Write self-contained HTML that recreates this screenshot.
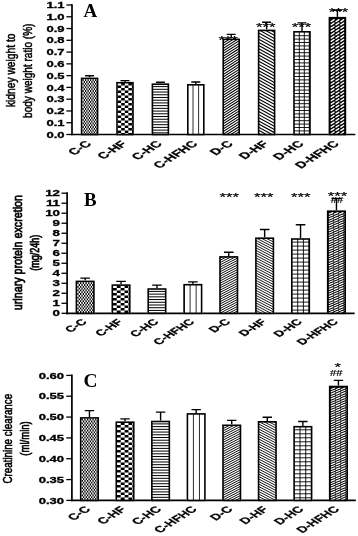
<!DOCTYPE html>
<html lang="en"><head><meta charset="utf-8"><title>Figure</title>
<style>html,body{margin:0;padding:0;background:#fff}svg{display:block;filter:blur(0.35px)}</style></head><body>
<svg width="358" height="536" viewBox="0 0 358 536">
<rect width="358" height="536" fill="#fff"/>
<defs><clipPath id="c1"><rect x="81.60" y="78.40" width="16.00" height="56.10"/></clipPath><clipPath id="c2"><rect x="117.00" y="82.70" width="16.00" height="51.80"/></clipPath><clipPath id="c3"><rect x="152.40" y="84.20" width="16.00" height="50.30"/></clipPath><clipPath id="c4"><rect x="187.80" y="84.80" width="16.00" height="49.70"/></clipPath><clipPath id="c5"><rect x="223.20" y="39.30" width="16.00" height="95.20"/></clipPath><clipPath id="c6"><rect x="258.60" y="30.40" width="16.00" height="104.10"/></clipPath><clipPath id="c7"><rect x="294.00" y="31.80" width="16.00" height="102.70"/></clipPath><clipPath id="c8"><rect x="329.40" y="17.70" width="16.00" height="116.80"/></clipPath><clipPath id="c9"><rect x="76.40" y="281.40" width="17.50" height="31.90"/></clipPath><clipPath id="c10"><rect x="112.30" y="285.10" width="17.50" height="28.20"/></clipPath><clipPath id="c11"><rect x="148.20" y="289.00" width="17.50" height="24.30"/></clipPath><clipPath id="c12"><rect x="184.10" y="284.70" width="17.50" height="28.60"/></clipPath><clipPath id="c13"><rect x="220.00" y="256.90" width="17.50" height="56.40"/></clipPath><clipPath id="c14"><rect x="255.90" y="238.20" width="17.50" height="75.10"/></clipPath><clipPath id="c15"><rect x="291.80" y="239.00" width="17.50" height="74.30"/></clipPath><clipPath id="c16"><rect x="327.70" y="211.20" width="17.50" height="102.10"/></clipPath><clipPath id="c17"><rect x="80.70" y="417.90" width="17.50" height="82.50"/></clipPath><clipPath id="c18"><rect x="116.27" y="422.20" width="17.50" height="78.20"/></clipPath><clipPath id="c19"><rect x="151.84" y="421.50" width="17.50" height="78.90"/></clipPath><clipPath id="c20"><rect x="187.41" y="413.90" width="17.50" height="86.50"/></clipPath><clipPath id="c21"><rect x="222.98" y="425.30" width="17.50" height="75.10"/></clipPath><clipPath id="c22"><rect x="258.55" y="421.80" width="17.50" height="78.60"/></clipPath><clipPath id="c23"><rect x="294.12" y="426.70" width="17.50" height="73.70"/></clipPath><clipPath id="c24"><rect x="329.69" y="386.50" width="17.50" height="113.90"/></clipPath></defs>
<path d="M72.00 4.15V135.35" stroke="#000" stroke-width="1.7" fill="none"/>
<path d="M71.15 134.50H355.30" stroke="#000" stroke-width="1.7" fill="none"/>
<path d="M66.40 134.50H72.00" stroke="#000" stroke-width="1.3" fill="none"/>
<text transform="translate(64.50 137.60) scale(1.55 1)" font-family='"Liberation Sans", Arial, Helvetica, sans-serif' font-size="8.4" font-weight="bold" text-anchor="end" stroke="#000" stroke-width="0.3">0.0</text>
<path d="M66.40 122.73H72.00" stroke="#000" stroke-width="1.3" fill="none"/>
<text transform="translate(64.50 125.83) scale(1.55 1)" font-family='"Liberation Sans", Arial, Helvetica, sans-serif' font-size="8.4" font-weight="bold" text-anchor="end" stroke="#000" stroke-width="0.3">0.1</text>
<path d="M66.40 110.95H72.00" stroke="#000" stroke-width="1.3" fill="none"/>
<text transform="translate(64.50 114.05) scale(1.55 1)" font-family='"Liberation Sans", Arial, Helvetica, sans-serif' font-size="8.4" font-weight="bold" text-anchor="end" stroke="#000" stroke-width="0.3">0.2</text>
<path d="M66.40 99.18H72.00" stroke="#000" stroke-width="1.3" fill="none"/>
<text transform="translate(64.50 102.28) scale(1.55 1)" font-family='"Liberation Sans", Arial, Helvetica, sans-serif' font-size="8.4" font-weight="bold" text-anchor="end" stroke="#000" stroke-width="0.3">0.3</text>
<path d="M66.40 87.41H72.00" stroke="#000" stroke-width="1.3" fill="none"/>
<text transform="translate(64.50 90.51) scale(1.55 1)" font-family='"Liberation Sans", Arial, Helvetica, sans-serif' font-size="8.4" font-weight="bold" text-anchor="end" stroke="#000" stroke-width="0.3">0.4</text>
<path d="M66.40 75.64H72.00" stroke="#000" stroke-width="1.3" fill="none"/>
<text transform="translate(64.50 78.74) scale(1.55 1)" font-family='"Liberation Sans", Arial, Helvetica, sans-serif' font-size="8.4" font-weight="bold" text-anchor="end" stroke="#000" stroke-width="0.3">0.5</text>
<path d="M66.40 63.86H72.00" stroke="#000" stroke-width="1.3" fill="none"/>
<text transform="translate(64.50 66.96) scale(1.55 1)" font-family='"Liberation Sans", Arial, Helvetica, sans-serif' font-size="8.4" font-weight="bold" text-anchor="end" stroke="#000" stroke-width="0.3">0.6</text>
<path d="M66.40 52.09H72.00" stroke="#000" stroke-width="1.3" fill="none"/>
<text transform="translate(64.50 55.19) scale(1.55 1)" font-family='"Liberation Sans", Arial, Helvetica, sans-serif' font-size="8.4" font-weight="bold" text-anchor="end" stroke="#000" stroke-width="0.3">0.7</text>
<path d="M66.40 40.32H72.00" stroke="#000" stroke-width="1.3" fill="none"/>
<text transform="translate(64.50 43.42) scale(1.55 1)" font-family='"Liberation Sans", Arial, Helvetica, sans-serif' font-size="8.4" font-weight="bold" text-anchor="end" stroke="#000" stroke-width="0.3">0.8</text>
<path d="M66.40 28.55H72.00" stroke="#000" stroke-width="1.3" fill="none"/>
<text transform="translate(64.50 31.65) scale(1.55 1)" font-family='"Liberation Sans", Arial, Helvetica, sans-serif' font-size="8.4" font-weight="bold" text-anchor="end" stroke="#000" stroke-width="0.3">0.9</text>
<path d="M66.40 16.77H72.00" stroke="#000" stroke-width="1.3" fill="none"/>
<text transform="translate(64.50 19.87) scale(1.55 1)" font-family='"Liberation Sans", Arial, Helvetica, sans-serif' font-size="8.4" font-weight="bold" text-anchor="end" stroke="#000" stroke-width="0.3">1.0</text>
<path d="M66.40 5.00H72.00" stroke="#000" stroke-width="1.3" fill="none"/>
<text transform="translate(64.50 8.10) scale(1.55 1)" font-family='"Liberation Sans", Arial, Helvetica, sans-serif' font-size="8.4" font-weight="bold" text-anchor="end" stroke="#000" stroke-width="0.3">1.1</text>
<path d="M89.60 77.60V75.80M85.10 75.80H94.10" stroke="#000" stroke-width="1.4" fill="none"/>
<rect x="80.80" y="77.60" width="17.60" height="56.90" fill="#fff"/>
<g clip-path="url(#c1)"><path d="M82.50 80.20H98.40M82.50 83.80H98.40M82.50 87.40H98.40M82.50 91.00H98.40M82.50 94.60H98.40M82.50 98.20H98.40M82.50 101.80H98.40M82.50 105.40H98.40M82.50 109.00H98.40M82.50 112.60H98.40M82.50 116.20H98.40M82.50 119.80H98.40M82.50 123.40H98.40M82.50 127.00H98.40M82.50 130.60H98.40M82.50 134.20H98.40" stroke="#000" stroke-width="1.800" stroke-dasharray="1.25 1.25" stroke-dashoffset="0" fill="none"/><path d="M82.50 82.00H98.40M82.50 85.60H98.40M82.50 89.20H98.40M82.50 92.80H98.40M82.50 96.40H98.40M82.50 100.00H98.40M82.50 103.60H98.40M82.50 107.20H98.40M82.50 110.80H98.40M82.50 114.40H98.40M82.50 118.00H98.40M82.50 121.60H98.40M82.50 125.20H98.40M82.50 128.80H98.40M82.50 132.40H98.40M82.50 136.00H98.40" stroke="#000" stroke-width="1.800" stroke-dasharray="1.25 1.25" stroke-dashoffset="1.25" fill="none"/></g>
<rect x="81.60" y="78.40" width="16.00" height="56.10" fill="none" stroke="#000" stroke-width="1.6"/>
<text transform="translate(92.15 144.50) scale(1.6 1) rotate(-45)" font-family='"Liberation Sans", Arial, Helvetica, sans-serif' font-size="9.0" font-weight="bold" text-anchor="end" stroke="#000" stroke-width="0.25">C-C</text>
<path d="M125.00 81.90V80.60M120.50 80.60H129.50" stroke="#000" stroke-width="1.4" fill="none"/>
<rect x="116.20" y="81.90" width="17.60" height="52.60" fill="#fff"/>
<g clip-path="url(#c2)"><path d="M117.60 84.35H133.80M117.60 89.35H133.80M117.60 94.35H133.80M117.60 99.35H133.80M117.60 104.35H133.80M117.60 109.35H133.80M117.60 114.35H133.80M117.60 119.35H133.80M117.60 124.35H133.80M117.60 129.35H133.80M117.60 134.35H133.80" stroke="#000" stroke-width="2.500" stroke-dasharray="3.58 3.58" stroke-dashoffset="3.58" fill="none"/><path d="M117.60 86.85H133.80M117.60 91.85H133.80M117.60 96.85H133.80M117.60 101.85H133.80M117.60 106.85H133.80M117.60 111.85H133.80M117.60 116.85H133.80M117.60 121.85H133.80M117.60 126.85H133.80M117.60 131.85H133.80M117.60 136.85H133.80" stroke="#000" stroke-width="2.500" stroke-dasharray="3.58 3.58" stroke-dashoffset="0" fill="none"/></g>
<rect x="117.00" y="82.70" width="16.00" height="51.80" fill="none" stroke="#000" stroke-width="1.6"/>
<text transform="translate(127.55 144.50) scale(1.6 1) rotate(-45)" font-family='"Liberation Sans", Arial, Helvetica, sans-serif' font-size="9.0" font-weight="bold" text-anchor="end" stroke="#000" stroke-width="0.25">C-HF</text>
<path d="M160.40 83.40V82.30M155.90 82.30H164.90" stroke="#000" stroke-width="1.4" fill="none"/>
<rect x="151.60" y="83.40" width="17.60" height="51.10" fill="#fff"/>
<g clip-path="url(#c3)"><path d="M151.60 86.60H169.20M151.60 89.32H169.20M151.60 92.04H169.20M151.60 94.76H169.20M151.60 97.48H169.20M151.60 100.20H169.20M151.60 102.92H169.20M151.60 105.64H169.20M151.60 108.36H169.20M151.60 111.08H169.20M151.60 113.80H169.20M151.60 116.52H169.20M151.60 119.24H169.20M151.60 121.96H169.20M151.60 124.68H169.20M151.60 127.40H169.20M151.60 130.12H169.20M151.60 132.84H169.20" stroke="#000" stroke-width="1.0" fill="none"/></g>
<rect x="152.40" y="84.20" width="16.00" height="50.30" fill="none" stroke="#000" stroke-width="1.6"/>
<text transform="translate(162.95 144.50) scale(1.6 1) rotate(-45)" font-family='"Liberation Sans", Arial, Helvetica, sans-serif' font-size="9.0" font-weight="bold" text-anchor="end" stroke="#000" stroke-width="0.25">C-HC</text>
<path d="M195.80 84.00V82.00M191.30 82.00H200.30" stroke="#000" stroke-width="1.4" fill="none"/>
<rect x="187.00" y="84.00" width="17.60" height="50.50" fill="#fff"/>
<g clip-path="url(#c4)"><path d="M187.40 84.00V134.50M193.00 84.00V134.50M198.60 84.00V134.50M204.20 84.00V134.50" stroke="#222" stroke-width="0.95" fill="none"/></g>
<rect x="187.80" y="84.80" width="16.00" height="49.70" fill="none" stroke="#000" stroke-width="1.6"/>
<text transform="translate(198.35 144.50) scale(1.6 1) rotate(-45)" font-family='"Liberation Sans", Arial, Helvetica, sans-serif' font-size="9.0" font-weight="bold" text-anchor="end" stroke="#000" stroke-width="0.25">C-HFHC</text>
<path d="M231.20 38.50V34.40M226.70 34.40H235.70" stroke="#000" stroke-width="1.4" fill="none"/>
<rect x="222.40" y="38.50" width="17.60" height="96.00" fill="#fff"/>
<g clip-path="url(#c5)"><path d="M222.40 38.50L240.00 27.24M222.40 41.10L240.00 29.84M222.40 43.70L240.00 32.44M222.40 46.30L240.00 35.04M222.40 48.90L240.00 37.64M222.40 51.50L240.00 40.24M222.40 54.10L240.00 42.84M222.40 56.70L240.00 45.44M222.40 59.30L240.00 48.04M222.40 61.90L240.00 50.64M222.40 64.50L240.00 53.24M222.40 67.10L240.00 55.84M222.40 69.70L240.00 58.44M222.40 72.30L240.00 61.04M222.40 74.90L240.00 63.64M222.40 77.50L240.00 66.24M222.40 80.10L240.00 68.84M222.40 82.70L240.00 71.44M222.40 85.30L240.00 74.04M222.40 87.90L240.00 76.64M222.40 90.50L240.00 79.24M222.40 93.10L240.00 81.84M222.40 95.70L240.00 84.44M222.40 98.30L240.00 87.04M222.40 100.90L240.00 89.64M222.40 103.50L240.00 92.24M222.40 106.10L240.00 94.84M222.40 108.70L240.00 97.44M222.40 111.30L240.00 100.04M222.40 113.90L240.00 102.64M222.40 116.50L240.00 105.24M222.40 119.10L240.00 107.84M222.40 121.70L240.00 110.44M222.40 124.30L240.00 113.04M222.40 126.90L240.00 115.64M222.40 129.50L240.00 118.24M222.40 132.10L240.00 120.84M222.40 134.70L240.00 123.44M222.40 137.30L240.00 126.04M222.40 139.90L240.00 128.64M222.40 142.50L240.00 131.24M222.40 145.10L240.00 133.84M222.40 147.70L240.00 136.44" stroke="#000" stroke-width="1.05" fill="none"/></g>
<rect x="223.20" y="39.30" width="16.00" height="95.20" fill="none" stroke="#000" stroke-width="1.6"/>
<text transform="translate(233.75 144.50) scale(1.6 1) rotate(-45)" font-family='"Liberation Sans", Arial, Helvetica, sans-serif' font-size="9.0" font-weight="bold" text-anchor="end" stroke="#000" stroke-width="0.25">D-C</text>
<path d="M266.60 29.60V22.20M262.10 22.20H271.10" stroke="#000" stroke-width="1.4" fill="none"/>
<rect x="257.80" y="29.60" width="17.60" height="104.90" fill="#fff"/>
<g clip-path="url(#c6)"><path d="M257.80 19.92L275.40 29.60M257.80 23.06L275.40 32.74M257.80 26.20L275.40 35.88M257.80 29.34L275.40 39.02M257.80 32.48L275.40 42.16M257.80 35.62L275.40 45.30M257.80 38.76L275.40 48.44M257.80 41.90L275.40 51.58M257.80 45.04L275.40 54.72M257.80 48.18L275.40 57.86M257.80 51.32L275.40 61.00M257.80 54.46L275.40 64.14M257.80 57.60L275.40 67.28M257.80 60.74L275.40 70.42M257.80 63.88L275.40 73.56M257.80 67.02L275.40 76.70M257.80 70.16L275.40 79.84M257.80 73.30L275.40 82.98M257.80 76.44L275.40 86.12M257.80 79.58L275.40 89.26M257.80 82.72L275.40 92.40M257.80 85.86L275.40 95.54M257.80 89.00L275.40 98.68M257.80 92.14L275.40 101.82M257.80 95.28L275.40 104.96M257.80 98.42L275.40 108.10M257.80 101.56L275.40 111.24M257.80 104.70L275.40 114.38M257.80 107.84L275.40 117.52M257.80 110.98L275.40 120.66M257.80 114.12L275.40 123.80M257.80 117.26L275.40 126.94M257.80 120.40L275.40 130.08M257.80 123.54L275.40 133.22M257.80 126.68L275.40 136.36M257.80 129.82L275.40 139.50M257.80 132.96L275.40 142.64M257.80 136.10L275.40 145.78" stroke="#000" stroke-width="1.1" fill="none"/></g>
<rect x="258.60" y="30.40" width="16.00" height="104.10" fill="none" stroke="#000" stroke-width="1.6"/>
<text transform="translate(269.15 144.50) scale(1.6 1) rotate(-45)" font-family='"Liberation Sans", Arial, Helvetica, sans-serif' font-size="9.0" font-weight="bold" text-anchor="end" stroke="#000" stroke-width="0.25">D-HF</text>
<path d="M302.00 31.00V22.90M297.50 22.90H306.50" stroke="#000" stroke-width="1.4" fill="none"/>
<rect x="293.20" y="31.00" width="17.60" height="103.50" fill="#fff"/>
<g clip-path="url(#c7)"><path d="M299.30 31.00V134.50M304.30 31.00V134.50M309.30 31.00V134.50M293.20 35.70H310.80M293.20 39.10H310.80M293.20 42.50H310.80M293.20 45.90H310.80M293.20 49.30H310.80M293.20 52.70H310.80M293.20 56.10H310.80M293.20 59.50H310.80M293.20 62.90H310.80M293.20 66.30H310.80M293.20 69.70H310.80M293.20 73.10H310.80M293.20 76.50H310.80M293.20 79.90H310.80M293.20 83.30H310.80M293.20 86.70H310.80M293.20 90.10H310.80M293.20 93.50H310.80M293.20 96.90H310.80M293.20 100.30H310.80M293.20 103.70H310.80M293.20 107.10H310.80M293.20 110.50H310.80M293.20 113.90H310.80M293.20 117.30H310.80M293.20 120.70H310.80M293.20 124.10H310.80M293.20 127.50H310.80M293.20 130.90H310.80M293.20 134.30H310.80" stroke="#000" stroke-width="0.9" fill="none"/></g>
<rect x="294.00" y="31.80" width="16.00" height="102.70" fill="none" stroke="#000" stroke-width="1.6"/>
<text transform="translate(304.55 144.50) scale(1.6 1) rotate(-45)" font-family='"Liberation Sans", Arial, Helvetica, sans-serif' font-size="9.0" font-weight="bold" text-anchor="end" stroke="#000" stroke-width="0.25">D-HC</text>
<path d="M337.40 16.90V10.20M332.90 10.20H341.90" stroke="#000" stroke-width="1.4" fill="none"/>
<rect x="328.60" y="16.90" width="17.60" height="117.60" fill="#fff"/>
<g clip-path="url(#c8)"><rect x="328.60" y="16.90" width="17.60" height="117.60" fill="#000"/><path d="M331.15 21.55L334.05 19.65M336.00 21.55L338.90 19.65M340.85 21.55L343.75 19.65M345.70 21.55L348.60 19.65M331.15 24.85L334.05 22.95M336.00 24.85L338.90 22.95M340.85 24.85L343.75 22.95M345.70 24.85L348.60 22.95M331.15 28.15L334.05 26.25M336.00 28.15L338.90 26.25M340.85 28.15L343.75 26.25M345.70 28.15L348.60 26.25M331.15 31.45L334.05 29.55M336.00 31.45L338.90 29.55M340.85 31.45L343.75 29.55M345.70 31.45L348.60 29.55M331.15 34.75L334.05 32.85M336.00 34.75L338.90 32.85M340.85 34.75L343.75 32.85M345.70 34.75L348.60 32.85M331.15 38.05L334.05 36.15M336.00 38.05L338.90 36.15M340.85 38.05L343.75 36.15M345.70 38.05L348.60 36.15M331.15 41.35L334.05 39.45M336.00 41.35L338.90 39.45M340.85 41.35L343.75 39.45M345.70 41.35L348.60 39.45M331.15 44.65L334.05 42.75M336.00 44.65L338.90 42.75M340.85 44.65L343.75 42.75M345.70 44.65L348.60 42.75M331.15 47.95L334.05 46.05M336.00 47.95L338.90 46.05M340.85 47.95L343.75 46.05M345.70 47.95L348.60 46.05M331.15 51.25L334.05 49.35M336.00 51.25L338.90 49.35M340.85 51.25L343.75 49.35M345.70 51.25L348.60 49.35M331.15 54.55L334.05 52.65M336.00 54.55L338.90 52.65M340.85 54.55L343.75 52.65M345.70 54.55L348.60 52.65M331.15 57.85L334.05 55.95M336.00 57.85L338.90 55.95M340.85 57.85L343.75 55.95M345.70 57.85L348.60 55.95M331.15 61.15L334.05 59.25M336.00 61.15L338.90 59.25M340.85 61.15L343.75 59.25M345.70 61.15L348.60 59.25M331.15 64.45L334.05 62.55M336.00 64.45L338.90 62.55M340.85 64.45L343.75 62.55M345.70 64.45L348.60 62.55M331.15 67.75L334.05 65.85M336.00 67.75L338.90 65.85M340.85 67.75L343.75 65.85M345.70 67.75L348.60 65.85M331.15 71.05L334.05 69.15M336.00 71.05L338.90 69.15M340.85 71.05L343.75 69.15M345.70 71.05L348.60 69.15M331.15 74.35L334.05 72.45M336.00 74.35L338.90 72.45M340.85 74.35L343.75 72.45M345.70 74.35L348.60 72.45M331.15 77.65L334.05 75.75M336.00 77.65L338.90 75.75M340.85 77.65L343.75 75.75M345.70 77.65L348.60 75.75M331.15 80.95L334.05 79.05M336.00 80.95L338.90 79.05M340.85 80.95L343.75 79.05M345.70 80.95L348.60 79.05M331.15 84.25L334.05 82.35M336.00 84.25L338.90 82.35M340.85 84.25L343.75 82.35M345.70 84.25L348.60 82.35M331.15 87.55L334.05 85.65M336.00 87.55L338.90 85.65M340.85 87.55L343.75 85.65M345.70 87.55L348.60 85.65M331.15 90.85L334.05 88.95M336.00 90.85L338.90 88.95M340.85 90.85L343.75 88.95M345.70 90.85L348.60 88.95M331.15 94.15L334.05 92.25M336.00 94.15L338.90 92.25M340.85 94.15L343.75 92.25M345.70 94.15L348.60 92.25M331.15 97.45L334.05 95.55M336.00 97.45L338.90 95.55M340.85 97.45L343.75 95.55M345.70 97.45L348.60 95.55M331.15 100.75L334.05 98.85M336.00 100.75L338.90 98.85M340.85 100.75L343.75 98.85M345.70 100.75L348.60 98.85M331.15 104.05L334.05 102.15M336.00 104.05L338.90 102.15M340.85 104.05L343.75 102.15M345.70 104.05L348.60 102.15M331.15 107.35L334.05 105.45M336.00 107.35L338.90 105.45M340.85 107.35L343.75 105.45M345.70 107.35L348.60 105.45M331.15 110.65L334.05 108.75M336.00 110.65L338.90 108.75M340.85 110.65L343.75 108.75M345.70 110.65L348.60 108.75M331.15 113.95L334.05 112.05M336.00 113.95L338.90 112.05M340.85 113.95L343.75 112.05M345.70 113.95L348.60 112.05M331.15 117.25L334.05 115.35M336.00 117.25L338.90 115.35M340.85 117.25L343.75 115.35M345.70 117.25L348.60 115.35M331.15 120.55L334.05 118.65M336.00 120.55L338.90 118.65M340.85 120.55L343.75 118.65M345.70 120.55L348.60 118.65M331.15 123.85L334.05 121.95M336.00 123.85L338.90 121.95M340.85 123.85L343.75 121.95M345.70 123.85L348.60 121.95M331.15 127.15L334.05 125.25M336.00 127.15L338.90 125.25M340.85 127.15L343.75 125.25M345.70 127.15L348.60 125.25M331.15 130.45L334.05 128.55M336.00 130.45L338.90 128.55M340.85 130.45L343.75 128.55M345.70 130.45L348.60 128.55M331.15 133.75L334.05 131.85M336.00 133.75L338.90 131.85M340.85 133.75L343.75 131.85M345.70 133.75L348.60 131.85M331.15 137.05L334.05 135.15M336.00 137.05L338.90 135.15M340.85 137.05L343.75 135.15M345.70 137.05L348.60 135.15" stroke="#fff" stroke-width="1.4" stroke-linecap="round" fill="none"/></g>
<rect x="329.40" y="17.70" width="16.00" height="116.80" fill="none" stroke="#000" stroke-width="1.6"/>
<text transform="translate(339.95 144.50) scale(1.6 1) rotate(-45)" font-family='"Liberation Sans", Arial, Helvetica, sans-serif' font-size="9.0" font-weight="bold" text-anchor="end" stroke="#000" stroke-width="0.25">D-HFHC</text>
<text transform="translate(228.10 43.88) scale(1.51 1)" font-family='"Liberation Sans", Arial, Helvetica, sans-serif' font-size="11" font-weight="normal" text-anchor="middle" stroke="#000" stroke-width="0.2">***</text>
<text transform="translate(265.70 31.49) scale(1.51 1)" font-family='"Liberation Sans", Arial, Helvetica, sans-serif' font-size="11" font-weight="normal" text-anchor="middle" stroke="#000" stroke-width="0.2">***</text>
<text transform="translate(301.50 31.49) scale(1.51 1)" font-family='"Liberation Sans", Arial, Helvetica, sans-serif' font-size="11" font-weight="normal" text-anchor="middle" stroke="#000" stroke-width="0.2">***</text>
<text transform="translate(338.50 16.39) scale(1.51 1)" font-family='"Liberation Sans", Arial, Helvetica, sans-serif' font-size="11" font-weight="normal" text-anchor="middle" stroke="#000" stroke-width="0.2">***</text>
<text transform="translate(90.30 16.50) scale(0.98 1)" font-family='"Liberation Serif", "Times New Roman", serif' font-size="19.3" font-weight="bold" text-anchor="middle" >A</text>
<text transform="translate(14.80 70.30) rotate(-90) scale(0.855 1)" font-family='"Liberation Sans", Arial, sans-serif' font-size="12" text-anchor="middle" stroke="#000" stroke-width="0.5">kidney weight to</text>
<text transform="translate(31.50 70.75) rotate(-90) scale(0.838 1)" font-family='"Liberation Sans", Arial, sans-serif' font-size="12" text-anchor="middle" stroke="#000" stroke-width="0.5">body weight ratio (%)</text>
<path d="M67.10 192.35V314.15" stroke="#000" stroke-width="1.7" fill="none"/>
<path d="M66.25 313.30H354.60" stroke="#000" stroke-width="1.7" fill="none"/>
<path d="M61.50 313.30H67.10" stroke="#000" stroke-width="1.3" fill="none"/>
<text transform="translate(60.00 316.40) scale(1.55 1)" font-family='"Liberation Sans", Arial, Helvetica, sans-serif' font-size="8.6" font-weight="bold" text-anchor="end" stroke="#000" stroke-width="0.3">0</text>
<path d="M61.50 303.29H67.10" stroke="#000" stroke-width="1.3" fill="none"/>
<text transform="translate(60.00 306.39) scale(1.55 1)" font-family='"Liberation Sans", Arial, Helvetica, sans-serif' font-size="8.6" font-weight="bold" text-anchor="end" stroke="#000" stroke-width="0.3">1</text>
<path d="M61.50 293.28H67.10" stroke="#000" stroke-width="1.3" fill="none"/>
<text transform="translate(60.00 296.38) scale(1.55 1)" font-family='"Liberation Sans", Arial, Helvetica, sans-serif' font-size="8.6" font-weight="bold" text-anchor="end" stroke="#000" stroke-width="0.3">2</text>
<path d="M61.50 283.27H67.10" stroke="#000" stroke-width="1.3" fill="none"/>
<text transform="translate(60.00 286.38) scale(1.55 1)" font-family='"Liberation Sans", Arial, Helvetica, sans-serif' font-size="8.6" font-weight="bold" text-anchor="end" stroke="#000" stroke-width="0.3">3</text>
<path d="M61.50 273.27H67.10" stroke="#000" stroke-width="1.3" fill="none"/>
<text transform="translate(60.00 276.37) scale(1.55 1)" font-family='"Liberation Sans", Arial, Helvetica, sans-serif' font-size="8.6" font-weight="bold" text-anchor="end" stroke="#000" stroke-width="0.3">4</text>
<path d="M61.50 263.26H67.10" stroke="#000" stroke-width="1.3" fill="none"/>
<text transform="translate(60.00 266.36) scale(1.55 1)" font-family='"Liberation Sans", Arial, Helvetica, sans-serif' font-size="8.6" font-weight="bold" text-anchor="end" stroke="#000" stroke-width="0.3">5</text>
<path d="M61.50 253.25H67.10" stroke="#000" stroke-width="1.3" fill="none"/>
<text transform="translate(60.00 256.35) scale(1.55 1)" font-family='"Liberation Sans", Arial, Helvetica, sans-serif' font-size="8.6" font-weight="bold" text-anchor="end" stroke="#000" stroke-width="0.3">6</text>
<path d="M61.50 243.24H67.10" stroke="#000" stroke-width="1.3" fill="none"/>
<text transform="translate(60.00 246.34) scale(1.55 1)" font-family='"Liberation Sans", Arial, Helvetica, sans-serif' font-size="8.6" font-weight="bold" text-anchor="end" stroke="#000" stroke-width="0.3">7</text>
<path d="M61.50 233.23H67.10" stroke="#000" stroke-width="1.3" fill="none"/>
<text transform="translate(60.00 236.33) scale(1.55 1)" font-family='"Liberation Sans", Arial, Helvetica, sans-serif' font-size="8.6" font-weight="bold" text-anchor="end" stroke="#000" stroke-width="0.3">8</text>
<path d="M61.50 223.23H67.10" stroke="#000" stroke-width="1.3" fill="none"/>
<text transform="translate(60.00 226.33) scale(1.55 1)" font-family='"Liberation Sans", Arial, Helvetica, sans-serif' font-size="8.6" font-weight="bold" text-anchor="end" stroke="#000" stroke-width="0.3">9</text>
<path d="M61.50 213.22H67.10" stroke="#000" stroke-width="1.3" fill="none"/>
<text transform="translate(60.00 216.32) scale(1.55 1)" font-family='"Liberation Sans", Arial, Helvetica, sans-serif' font-size="8.6" font-weight="bold" text-anchor="end" stroke="#000" stroke-width="0.3">10</text>
<path d="M61.50 203.21H67.10" stroke="#000" stroke-width="1.3" fill="none"/>
<text transform="translate(60.00 206.31) scale(1.55 1)" font-family='"Liberation Sans", Arial, Helvetica, sans-serif' font-size="8.6" font-weight="bold" text-anchor="end" stroke="#000" stroke-width="0.3">11</text>
<path d="M61.50 193.20H67.10" stroke="#000" stroke-width="1.3" fill="none"/>
<text transform="translate(60.00 196.30) scale(1.55 1)" font-family='"Liberation Sans", Arial, Helvetica, sans-serif' font-size="8.6" font-weight="bold" text-anchor="end" stroke="#000" stroke-width="0.3">12</text>
<path d="M85.15 280.60V278.10M80.35 278.10H89.95" stroke="#000" stroke-width="1.4" fill="none"/>
<rect x="75.60" y="280.60" width="19.10" height="32.70" fill="#fff"/>
<g clip-path="url(#c9)"><path d="M77.30 283.20H94.70M77.30 286.80H94.70M77.30 290.40H94.70M77.30 294.00H94.70M77.30 297.60H94.70M77.30 301.20H94.70M77.30 304.80H94.70M77.30 308.40H94.70M77.30 312.00H94.70M77.30 315.60H94.70" stroke="#000" stroke-width="1.800" stroke-dasharray="1.35 1.35" stroke-dashoffset="0" fill="none"/><path d="M77.30 285.00H94.70M77.30 288.60H94.70M77.30 292.20H94.70M77.30 295.80H94.70M77.30 299.40H94.70M77.30 303.00H94.70M77.30 306.60H94.70M77.30 310.20H94.70M77.30 313.80H94.70" stroke="#000" stroke-width="1.800" stroke-dasharray="1.35 1.35" stroke-dashoffset="1.35" fill="none"/></g>
<rect x="76.40" y="281.40" width="17.50" height="31.90" fill="none" stroke="#000" stroke-width="1.6"/>
<text transform="translate(87.55 322.50) scale(1.6 1) rotate(-45)" font-family='"Liberation Sans", Arial, Helvetica, sans-serif' font-size="8.45" font-weight="bold" text-anchor="end" stroke="#000" stroke-width="0.25">C-C</text>
<path d="M121.05 284.30V281.40M116.25 281.40H125.85" stroke="#000" stroke-width="1.4" fill="none"/>
<rect x="111.50" y="284.30" width="19.10" height="29.00" fill="#fff"/>
<g clip-path="url(#c10)"><path d="M112.90 286.75H130.60M112.90 291.75H130.60M112.90 296.75H130.60M112.90 301.75H130.60M112.90 306.75H130.60M112.90 311.75H130.60M112.90 316.75H130.60" stroke="#000" stroke-width="2.500" stroke-dasharray="3.8664000000000005 3.8664000000000005" stroke-dashoffset="3.8664000000000005" fill="none"/><path d="M112.90 289.25H130.60M112.90 294.25H130.60M112.90 299.25H130.60M112.90 304.25H130.60M112.90 309.25H130.60M112.90 314.25H130.60" stroke="#000" stroke-width="2.500" stroke-dasharray="3.8664000000000005 3.8664000000000005" stroke-dashoffset="0" fill="none"/></g>
<rect x="112.30" y="285.10" width="17.50" height="28.20" fill="none" stroke="#000" stroke-width="1.6"/>
<text transform="translate(123.45 322.50) scale(1.6 1) rotate(-45)" font-family='"Liberation Sans", Arial, Helvetica, sans-serif' font-size="8.45" font-weight="bold" text-anchor="end" stroke="#000" stroke-width="0.25">C-HF</text>
<path d="M156.95 288.20V285.10M152.15 285.10H161.75" stroke="#000" stroke-width="1.4" fill="none"/>
<rect x="147.40" y="288.20" width="19.10" height="25.10" fill="#fff"/>
<g clip-path="url(#c11)"><path d="M147.40 291.40H166.50M147.40 294.12H166.50M147.40 296.84H166.50M147.40 299.56H166.50M147.40 302.28H166.50M147.40 305.00H166.50M147.40 307.72H166.50M147.40 310.44H166.50M147.40 313.16H166.50" stroke="#000" stroke-width="1.0" fill="none"/></g>
<rect x="148.20" y="289.00" width="17.50" height="24.30" fill="none" stroke="#000" stroke-width="1.6"/>
<text transform="translate(159.35 322.50) scale(1.6 1) rotate(-45)" font-family='"Liberation Sans", Arial, Helvetica, sans-serif' font-size="8.45" font-weight="bold" text-anchor="end" stroke="#000" stroke-width="0.25">C-HC</text>
<path d="M192.85 283.90V281.90M188.05 281.90H197.65" stroke="#000" stroke-width="1.4" fill="none"/>
<rect x="183.30" y="283.90" width="19.10" height="29.40" fill="#fff"/>
<g clip-path="url(#c12)"><path d="M184.05 283.90V313.30M190.10 283.90V313.30M196.15 283.90V313.30M202.20 283.90V313.30" stroke="#222" stroke-width="0.95" fill="none"/></g>
<rect x="184.10" y="284.70" width="17.50" height="28.60" fill="none" stroke="#000" stroke-width="1.6"/>
<text transform="translate(195.25 322.50) scale(1.6 1) rotate(-45)" font-family='"Liberation Sans", Arial, Helvetica, sans-serif' font-size="8.45" font-weight="bold" text-anchor="end" stroke="#000" stroke-width="0.25">C-HFHC</text>
<path d="M228.75 256.10V252.20M223.95 252.20H233.55" stroke="#000" stroke-width="1.4" fill="none"/>
<rect x="219.20" y="256.10" width="19.10" height="57.20" fill="#fff"/>
<g clip-path="url(#c13)"><path d="M219.20 256.10L238.30 246.17M219.20 258.40L238.30 248.47M219.20 260.70L238.30 250.77M219.20 263.00L238.30 253.07M219.20 265.30L238.30 255.37M219.20 267.60L238.30 257.67M219.20 269.90L238.30 259.97M219.20 272.20L238.30 262.27M219.20 274.50L238.30 264.57M219.20 276.80L238.30 266.87M219.20 279.10L238.30 269.17M219.20 281.40L238.30 271.47M219.20 283.70L238.30 273.77M219.20 286.00L238.30 276.07M219.20 288.30L238.30 278.37M219.20 290.60L238.30 280.67M219.20 292.90L238.30 282.97M219.20 295.20L238.30 285.27M219.20 297.50L238.30 287.57M219.20 299.80L238.30 289.87M219.20 302.10L238.30 292.17M219.20 304.40L238.30 294.47M219.20 306.70L238.30 296.77M219.20 309.00L238.30 299.07M219.20 311.30L238.30 301.37M219.20 313.60L238.30 303.67M219.20 315.90L238.30 305.97M219.20 318.20L238.30 308.27M219.20 320.50L238.30 310.57M219.20 322.80L238.30 312.87M219.20 325.10L238.30 315.17" stroke="#000" stroke-width="0.95" fill="none"/></g>
<rect x="220.00" y="256.90" width="17.50" height="56.40" fill="none" stroke="#000" stroke-width="1.6"/>
<text transform="translate(231.15 322.50) scale(1.6 1) rotate(-45)" font-family='"Liberation Sans", Arial, Helvetica, sans-serif' font-size="8.45" font-weight="bold" text-anchor="end" stroke="#000" stroke-width="0.25">D-C</text>
<path d="M264.65 237.40V229.50M259.85 229.50H269.45" stroke="#000" stroke-width="1.4" fill="none"/>
<rect x="255.10" y="237.40" width="19.10" height="75.90" fill="#fff"/>
<g clip-path="url(#c14)"><path d="M255.10 227.47L274.20 237.40M255.10 229.97L274.20 239.90M255.10 232.47L274.20 242.40M255.10 234.97L274.20 244.90M255.10 237.47L274.20 247.40M255.10 239.97L274.20 249.90M255.10 242.47L274.20 252.40M255.10 244.97L274.20 254.90M255.10 247.47L274.20 257.40M255.10 249.97L274.20 259.90M255.10 252.47L274.20 262.40M255.10 254.97L274.20 264.90M255.10 257.47L274.20 267.40M255.10 259.97L274.20 269.90M255.10 262.47L274.20 272.40M255.10 264.97L274.20 274.90M255.10 267.47L274.20 277.40M255.10 269.97L274.20 279.90M255.10 272.47L274.20 282.40M255.10 274.97L274.20 284.90M255.10 277.47L274.20 287.40M255.10 279.97L274.20 289.90M255.10 282.47L274.20 292.40M255.10 284.97L274.20 294.90M255.10 287.47L274.20 297.40M255.10 289.97L274.20 299.90M255.10 292.47L274.20 302.40M255.10 294.97L274.20 304.90M255.10 297.47L274.20 307.40M255.10 299.97L274.20 309.90M255.10 302.47L274.20 312.40M255.10 304.97L274.20 314.90M255.10 307.47L274.20 317.40M255.10 309.97L274.20 319.90M255.10 312.47L274.20 322.40M255.10 314.97L274.20 324.90" stroke="#000" stroke-width="0.9" fill="none"/></g>
<rect x="255.90" y="238.20" width="17.50" height="75.10" fill="none" stroke="#000" stroke-width="1.6"/>
<text transform="translate(267.05 322.50) scale(1.6 1) rotate(-45)" font-family='"Liberation Sans", Arial, Helvetica, sans-serif' font-size="8.45" font-weight="bold" text-anchor="end" stroke="#000" stroke-width="0.25">D-HF</text>
<path d="M300.55 238.20V224.70M295.75 224.70H305.35" stroke="#000" stroke-width="1.4" fill="none"/>
<rect x="291.00" y="238.20" width="19.10" height="75.10" fill="#fff"/>
<g clip-path="url(#c15)"><path d="M297.70 238.20V313.30M303.40 238.20V313.30M309.10 238.20V313.30M291.00 242.10H310.10M291.00 246.10H310.10M291.00 250.10H310.10M291.00 254.10H310.10M291.00 258.10H310.10M291.00 262.10H310.10M291.00 266.10H310.10M291.00 270.10H310.10M291.00 274.10H310.10M291.00 278.10H310.10M291.00 282.10H310.10M291.00 286.10H310.10M291.00 290.10H310.10M291.00 294.10H310.10M291.00 298.10H310.10M291.00 302.10H310.10M291.00 306.10H310.10M291.00 310.10H310.10" stroke="#000" stroke-width="0.9" fill="none"/></g>
<rect x="291.80" y="239.00" width="17.50" height="74.30" fill="none" stroke="#000" stroke-width="1.6"/>
<text transform="translate(302.95 322.50) scale(1.6 1) rotate(-45)" font-family='"Liberation Sans", Arial, Helvetica, sans-serif' font-size="8.45" font-weight="bold" text-anchor="end" stroke="#000" stroke-width="0.25">D-HC</text>
<path d="M336.45 210.40V198.50M331.65 198.50H341.25" stroke="#000" stroke-width="1.4" fill="none"/>
<rect x="326.90" y="210.40" width="19.10" height="102.90" fill="#fff"/>
<g clip-path="url(#c16)"><rect x="326.90" y="210.40" width="19.10" height="102.90" fill="#000"/><path d="M329.10 214.15L332.90 212.65M334.20 214.15L338.00 212.65M339.30 214.15L343.10 212.65M344.40 214.15L348.20 212.65M329.10 216.50L332.90 215.00M334.20 216.50L338.00 215.00M339.30 216.50L343.10 215.00M344.40 216.50L348.20 215.00M329.10 218.85L332.90 217.35M334.20 218.85L338.00 217.35M339.30 218.85L343.10 217.35M344.40 218.85L348.20 217.35M329.10 221.20L332.90 219.70M334.20 221.20L338.00 219.70M339.30 221.20L343.10 219.70M344.40 221.20L348.20 219.70M329.10 223.55L332.90 222.05M334.20 223.55L338.00 222.05M339.30 223.55L343.10 222.05M344.40 223.55L348.20 222.05M329.10 225.90L332.90 224.40M334.20 225.90L338.00 224.40M339.30 225.90L343.10 224.40M344.40 225.90L348.20 224.40M329.10 228.25L332.90 226.75M334.20 228.25L338.00 226.75M339.30 228.25L343.10 226.75M344.40 228.25L348.20 226.75M329.10 230.60L332.90 229.10M334.20 230.60L338.00 229.10M339.30 230.60L343.10 229.10M344.40 230.60L348.20 229.10M329.10 232.95L332.90 231.45M334.20 232.95L338.00 231.45M339.30 232.95L343.10 231.45M344.40 232.95L348.20 231.45M329.10 235.30L332.90 233.80M334.20 235.30L338.00 233.80M339.30 235.30L343.10 233.80M344.40 235.30L348.20 233.80M329.10 237.65L332.90 236.15M334.20 237.65L338.00 236.15M339.30 237.65L343.10 236.15M344.40 237.65L348.20 236.15M329.10 240.00L332.90 238.50M334.20 240.00L338.00 238.50M339.30 240.00L343.10 238.50M344.40 240.00L348.20 238.50M329.10 242.35L332.90 240.85M334.20 242.35L338.00 240.85M339.30 242.35L343.10 240.85M344.40 242.35L348.20 240.85M329.10 244.70L332.90 243.20M334.20 244.70L338.00 243.20M339.30 244.70L343.10 243.20M344.40 244.70L348.20 243.20M329.10 247.05L332.90 245.55M334.20 247.05L338.00 245.55M339.30 247.05L343.10 245.55M344.40 247.05L348.20 245.55M329.10 249.40L332.90 247.90M334.20 249.40L338.00 247.90M339.30 249.40L343.10 247.90M344.40 249.40L348.20 247.90M329.10 251.75L332.90 250.25M334.20 251.75L338.00 250.25M339.30 251.75L343.10 250.25M344.40 251.75L348.20 250.25M329.10 254.10L332.90 252.60M334.20 254.10L338.00 252.60M339.30 254.10L343.10 252.60M344.40 254.10L348.20 252.60M329.10 256.45L332.90 254.95M334.20 256.45L338.00 254.95M339.30 256.45L343.10 254.95M344.40 256.45L348.20 254.95M329.10 258.80L332.90 257.30M334.20 258.80L338.00 257.30M339.30 258.80L343.10 257.30M344.40 258.80L348.20 257.30M329.10 261.15L332.90 259.65M334.20 261.15L338.00 259.65M339.30 261.15L343.10 259.65M344.40 261.15L348.20 259.65M329.10 263.50L332.90 262.00M334.20 263.50L338.00 262.00M339.30 263.50L343.10 262.00M344.40 263.50L348.20 262.00M329.10 265.85L332.90 264.35M334.20 265.85L338.00 264.35M339.30 265.85L343.10 264.35M344.40 265.85L348.20 264.35M329.10 268.20L332.90 266.70M334.20 268.20L338.00 266.70M339.30 268.20L343.10 266.70M344.40 268.20L348.20 266.70M329.10 270.55L332.90 269.05M334.20 270.55L338.00 269.05M339.30 270.55L343.10 269.05M344.40 270.55L348.20 269.05M329.10 272.90L332.90 271.40M334.20 272.90L338.00 271.40M339.30 272.90L343.10 271.40M344.40 272.90L348.20 271.40M329.10 275.25L332.90 273.75M334.20 275.25L338.00 273.75M339.30 275.25L343.10 273.75M344.40 275.25L348.20 273.75M329.10 277.60L332.90 276.10M334.20 277.60L338.00 276.10M339.30 277.60L343.10 276.10M344.40 277.60L348.20 276.10M329.10 279.95L332.90 278.45M334.20 279.95L338.00 278.45M339.30 279.95L343.10 278.45M344.40 279.95L348.20 278.45M329.10 282.30L332.90 280.80M334.20 282.30L338.00 280.80M339.30 282.30L343.10 280.80M344.40 282.30L348.20 280.80M329.10 284.65L332.90 283.15M334.20 284.65L338.00 283.15M339.30 284.65L343.10 283.15M344.40 284.65L348.20 283.15M329.10 287.00L332.90 285.50M334.20 287.00L338.00 285.50M339.30 287.00L343.10 285.50M344.40 287.00L348.20 285.50M329.10 289.35L332.90 287.85M334.20 289.35L338.00 287.85M339.30 289.35L343.10 287.85M344.40 289.35L348.20 287.85M329.10 291.70L332.90 290.20M334.20 291.70L338.00 290.20M339.30 291.70L343.10 290.20M344.40 291.70L348.20 290.20M329.10 294.05L332.90 292.55M334.20 294.05L338.00 292.55M339.30 294.05L343.10 292.55M344.40 294.05L348.20 292.55M329.10 296.40L332.90 294.90M334.20 296.40L338.00 294.90M339.30 296.40L343.10 294.90M344.40 296.40L348.20 294.90M329.10 298.75L332.90 297.25M334.20 298.75L338.00 297.25M339.30 298.75L343.10 297.25M344.40 298.75L348.20 297.25M329.10 301.10L332.90 299.60M334.20 301.10L338.00 299.60M339.30 301.10L343.10 299.60M344.40 301.10L348.20 299.60M329.10 303.45L332.90 301.95M334.20 303.45L338.00 301.95M339.30 303.45L343.10 301.95M344.40 303.45L348.20 301.95M329.10 305.80L332.90 304.30M334.20 305.80L338.00 304.30M339.30 305.80L343.10 304.30M344.40 305.80L348.20 304.30M329.10 308.15L332.90 306.65M334.20 308.15L338.00 306.65M339.30 308.15L343.10 306.65M344.40 308.15L348.20 306.65M329.10 310.50L332.90 309.00M334.20 310.50L338.00 309.00M339.30 310.50L343.10 309.00M344.40 310.50L348.20 309.00M329.10 312.85L332.90 311.35M334.20 312.85L338.00 311.35M339.30 312.85L343.10 311.35M344.40 312.85L348.20 311.35M329.10 315.20L332.90 313.70M334.20 315.20L338.00 313.70M339.30 315.20L343.10 313.70M344.40 315.20L348.20 313.70" stroke="#fff" stroke-width="1.15" stroke-linecap="round" fill="none"/></g>
<rect x="327.70" y="211.20" width="17.50" height="102.10" fill="none" stroke="#000" stroke-width="1.6"/>
<text transform="translate(338.85 322.50) scale(1.6 1) rotate(-45)" font-family='"Liberation Sans", Arial, Helvetica, sans-serif' font-size="8.45" font-weight="bold" text-anchor="end" stroke="#000" stroke-width="0.25">D-HFHC</text>
<text transform="translate(229.30 201.08) scale(1.51 1)" font-family='"Liberation Sans", Arial, Helvetica, sans-serif' font-size="11" font-weight="normal" text-anchor="middle" stroke="#000" stroke-width="0.2">***</text>
<text transform="translate(263.70 201.08) scale(1.51 1)" font-family='"Liberation Sans", Arial, Helvetica, sans-serif' font-size="11" font-weight="normal" text-anchor="middle" stroke="#000" stroke-width="0.2">***</text>
<text transform="translate(300.80 201.38) scale(1.51 1)" font-family='"Liberation Sans", Arial, Helvetica, sans-serif' font-size="11" font-weight="normal" text-anchor="middle" stroke="#000" stroke-width="0.2">***</text>
<text transform="translate(337.50 199.78) scale(1.51 1)" font-family='"Liberation Sans", Arial, Helvetica, sans-serif' font-size="11" font-weight="normal" text-anchor="middle" stroke="#000" stroke-width="0.2">***</text>
<text transform="translate(337.00 202.98) scale(1.28 1)" font-family='"Liberation Sans", Arial, Helvetica, sans-serif' font-size="8.8" font-weight="normal" text-anchor="middle" stroke="#000" stroke-width="0.18">##</text>
<text transform="translate(90.25 205.90) scale(0.98 1)" font-family='"Liberation Serif", "Times New Roman", serif' font-size="19.3" font-weight="bold" text-anchor="middle" >B</text>
<text transform="translate(22.00 252.60) rotate(-90) scale(0.79 1)" font-family='"Liberation Sans", Arial, sans-serif' font-size="13.6" text-anchor="middle" stroke="#000" stroke-width="0.8">urinary protein excretion</text>
<text transform="translate(39.20 252.70) rotate(-90) scale(0.75 1)" font-family='"Liberation Sans", Arial, sans-serif' font-size="12" text-anchor="middle" stroke="#000" stroke-width="0.7">(mg/24h)</text>
<path d="M71.90 374.55V501.25" stroke="#000" stroke-width="1.7" fill="none"/>
<path d="M71.05 500.40H355.80" stroke="#000" stroke-width="1.7" fill="none"/>
<path d="M66.30 500.40H71.90" stroke="#000" stroke-width="1.3" fill="none"/>
<text transform="translate(64.00 503.50) scale(1.55 1)" font-family='"Liberation Sans", Arial, Helvetica, sans-serif' font-size="8.4" font-weight="bold" text-anchor="end" stroke="#000" stroke-width="0.3">0.30</text>
<path d="M66.30 479.57H71.90" stroke="#000" stroke-width="1.3" fill="none"/>
<text transform="translate(64.00 482.67) scale(1.55 1)" font-family='"Liberation Sans", Arial, Helvetica, sans-serif' font-size="8.4" font-weight="bold" text-anchor="end" stroke="#000" stroke-width="0.3">0.35</text>
<path d="M66.30 458.73H71.90" stroke="#000" stroke-width="1.3" fill="none"/>
<text transform="translate(64.00 461.83) scale(1.55 1)" font-family='"Liberation Sans", Arial, Helvetica, sans-serif' font-size="8.4" font-weight="bold" text-anchor="end" stroke="#000" stroke-width="0.3">0.40</text>
<path d="M66.30 437.90H71.90" stroke="#000" stroke-width="1.3" fill="none"/>
<text transform="translate(64.00 441.00) scale(1.55 1)" font-family='"Liberation Sans", Arial, Helvetica, sans-serif' font-size="8.4" font-weight="bold" text-anchor="end" stroke="#000" stroke-width="0.3">0.45</text>
<path d="M66.30 417.07H71.90" stroke="#000" stroke-width="1.3" fill="none"/>
<text transform="translate(64.00 420.17) scale(1.55 1)" font-family='"Liberation Sans", Arial, Helvetica, sans-serif' font-size="8.4" font-weight="bold" text-anchor="end" stroke="#000" stroke-width="0.3">0.50</text>
<path d="M66.30 396.23H71.90" stroke="#000" stroke-width="1.3" fill="none"/>
<text transform="translate(64.00 399.33) scale(1.55 1)" font-family='"Liberation Sans", Arial, Helvetica, sans-serif' font-size="8.4" font-weight="bold" text-anchor="end" stroke="#000" stroke-width="0.3">0.55</text>
<path d="M66.30 375.40H71.90" stroke="#000" stroke-width="1.3" fill="none"/>
<text transform="translate(64.00 378.50) scale(1.55 1)" font-family='"Liberation Sans", Arial, Helvetica, sans-serif' font-size="8.4" font-weight="bold" text-anchor="end" stroke="#000" stroke-width="0.3">0.60</text>
<path d="M89.45 417.10V410.60M84.75 410.60H94.15" stroke="#000" stroke-width="1.4" fill="none"/>
<rect x="79.90" y="417.10" width="19.10" height="83.30" fill="#fff"/>
<g clip-path="url(#c17)"><path d="M81.60 419.70H99.00M81.60 423.30H99.00M81.60 426.90H99.00M81.60 430.50H99.00M81.60 434.10H99.00M81.60 437.70H99.00M81.60 441.30H99.00M81.60 444.90H99.00M81.60 448.50H99.00M81.60 452.10H99.00M81.60 455.70H99.00M81.60 459.30H99.00M81.60 462.90H99.00M81.60 466.50H99.00M81.60 470.10H99.00M81.60 473.70H99.00M81.60 477.30H99.00M81.60 480.90H99.00M81.60 484.50H99.00M81.60 488.10H99.00M81.60 491.70H99.00M81.60 495.30H99.00M81.60 498.90H99.00M81.60 502.50H99.00" stroke="#000" stroke-width="1.800" stroke-dasharray="1.35 1.35" stroke-dashoffset="0" fill="none"/><path d="M81.60 421.50H99.00M81.60 425.10H99.00M81.60 428.70H99.00M81.60 432.30H99.00M81.60 435.90H99.00M81.60 439.50H99.00M81.60 443.10H99.00M81.60 446.70H99.00M81.60 450.30H99.00M81.60 453.90H99.00M81.60 457.50H99.00M81.60 461.10H99.00M81.60 464.70H99.00M81.60 468.30H99.00M81.60 471.90H99.00M81.60 475.50H99.00M81.60 479.10H99.00M81.60 482.70H99.00M81.60 486.30H99.00M81.60 489.90H99.00M81.60 493.50H99.00M81.60 497.10H99.00M81.60 500.70H99.00" stroke="#000" stroke-width="1.800" stroke-dasharray="1.35 1.35" stroke-dashoffset="1.35" fill="none"/></g>
<rect x="80.70" y="417.90" width="17.50" height="82.50" fill="none" stroke="#000" stroke-width="1.6"/>
<text transform="translate(91.05 509.90) scale(1.6 1) rotate(-45)" font-family='"Liberation Sans", Arial, Helvetica, sans-serif' font-size="8.75" font-weight="bold" text-anchor="end" stroke="#000" stroke-width="0.25">C-C</text>
<path d="M125.02 421.40V418.90M120.32 418.90H129.72" stroke="#000" stroke-width="1.4" fill="none"/>
<rect x="115.47" y="421.40" width="19.10" height="79.00" fill="#fff"/>
<g clip-path="url(#c18)"><path d="M116.87 423.85H134.57M116.87 428.85H134.57M116.87 433.85H134.57M116.87 438.85H134.57M116.87 443.85H134.57M116.87 448.85H134.57M116.87 453.85H134.57M116.87 458.85H134.57M116.87 463.85H134.57M116.87 468.85H134.57M116.87 473.85H134.57M116.87 478.85H134.57M116.87 483.85H134.57M116.87 488.85H134.57M116.87 493.85H134.57M116.87 498.85H134.57M116.87 503.85H134.57" stroke="#000" stroke-width="2.500" stroke-dasharray="3.8664000000000005 3.8664000000000005" stroke-dashoffset="3.8664000000000005" fill="none"/><path d="M116.87 426.35H134.57M116.87 431.35H134.57M116.87 436.35H134.57M116.87 441.35H134.57M116.87 446.35H134.57M116.87 451.35H134.57M116.87 456.35H134.57M116.87 461.35H134.57M116.87 466.35H134.57M116.87 471.35H134.57M116.87 476.35H134.57M116.87 481.35H134.57M116.87 486.35H134.57M116.87 491.35H134.57M116.87 496.35H134.57M116.87 501.35H134.57" stroke="#000" stroke-width="2.500" stroke-dasharray="3.8664000000000005 3.8664000000000005" stroke-dashoffset="0" fill="none"/></g>
<rect x="116.27" y="422.20" width="17.50" height="78.20" fill="none" stroke="#000" stroke-width="1.6"/>
<text transform="translate(126.62 509.90) scale(1.6 1) rotate(-45)" font-family='"Liberation Sans", Arial, Helvetica, sans-serif' font-size="8.75" font-weight="bold" text-anchor="end" stroke="#000" stroke-width="0.25">C-HF</text>
<path d="M160.59 420.70V412.10M155.89 412.10H165.29" stroke="#000" stroke-width="1.4" fill="none"/>
<rect x="151.04" y="420.70" width="19.10" height="79.70" fill="#fff"/>
<g clip-path="url(#c19)"><path d="M151.04 423.90H170.14M151.04 426.62H170.14M151.04 429.34H170.14M151.04 432.06H170.14M151.04 434.78H170.14M151.04 437.50H170.14M151.04 440.22H170.14M151.04 442.94H170.14M151.04 445.66H170.14M151.04 448.38H170.14M151.04 451.10H170.14M151.04 453.82H170.14M151.04 456.54H170.14M151.04 459.26H170.14M151.04 461.98H170.14M151.04 464.70H170.14M151.04 467.42H170.14M151.04 470.14H170.14M151.04 472.86H170.14M151.04 475.58H170.14M151.04 478.30H170.14M151.04 481.02H170.14M151.04 483.74H170.14M151.04 486.46H170.14M151.04 489.18H170.14M151.04 491.90H170.14M151.04 494.62H170.14M151.04 497.34H170.14M151.04 500.06H170.14" stroke="#000" stroke-width="1.0" fill="none"/></g>
<rect x="151.84" y="421.50" width="17.50" height="78.90" fill="none" stroke="#000" stroke-width="1.6"/>
<text transform="translate(162.19 509.90) scale(1.6 1) rotate(-45)" font-family='"Liberation Sans", Arial, Helvetica, sans-serif' font-size="8.75" font-weight="bold" text-anchor="end" stroke="#000" stroke-width="0.25">C-HC</text>
<path d="M196.16 413.10V409.60M191.46 409.60H200.86" stroke="#000" stroke-width="1.4" fill="none"/>
<rect x="186.61" y="413.10" width="19.10" height="87.30" fill="#fff"/>
<g clip-path="url(#c20)"><path d="M187.36 413.10V500.40M193.41 413.10V500.40M199.46 413.10V500.40M205.51 413.10V500.40" stroke="#222" stroke-width="0.95" fill="none"/></g>
<rect x="187.41" y="413.90" width="17.50" height="86.50" fill="none" stroke="#000" stroke-width="1.6"/>
<text transform="translate(197.76 509.90) scale(1.6 1) rotate(-45)" font-family='"Liberation Sans", Arial, Helvetica, sans-serif' font-size="8.75" font-weight="bold" text-anchor="end" stroke="#000" stroke-width="0.25">C-HFHC</text>
<path d="M231.73 424.50V420.40M227.03 420.40H236.43" stroke="#000" stroke-width="1.4" fill="none"/>
<rect x="222.18" y="424.50" width="19.10" height="75.90" fill="#fff"/>
<g clip-path="url(#c21)"><path d="M222.18 424.50L241.28 414.57M222.18 426.80L241.28 416.87M222.18 429.10L241.28 419.17M222.18 431.40L241.28 421.47M222.18 433.70L241.28 423.77M222.18 436.00L241.28 426.07M222.18 438.30L241.28 428.37M222.18 440.60L241.28 430.67M222.18 442.90L241.28 432.97M222.18 445.20L241.28 435.27M222.18 447.50L241.28 437.57M222.18 449.80L241.28 439.87M222.18 452.10L241.28 442.17M222.18 454.40L241.28 444.47M222.18 456.70L241.28 446.77M222.18 459.00L241.28 449.07M222.18 461.30L241.28 451.37M222.18 463.60L241.28 453.67M222.18 465.90L241.28 455.97M222.18 468.20L241.28 458.27M222.18 470.50L241.28 460.57M222.18 472.80L241.28 462.87M222.18 475.10L241.28 465.17M222.18 477.40L241.28 467.47M222.18 479.70L241.28 469.77M222.18 482.00L241.28 472.07M222.18 484.30L241.28 474.37M222.18 486.60L241.28 476.67M222.18 488.90L241.28 478.97M222.18 491.20L241.28 481.27M222.18 493.50L241.28 483.57M222.18 495.80L241.28 485.87M222.18 498.10L241.28 488.17M222.18 500.40L241.28 490.47M222.18 502.70L241.28 492.77M222.18 505.00L241.28 495.07M222.18 507.30L241.28 497.37M222.18 509.60L241.28 499.67M222.18 511.90L241.28 501.97" stroke="#000" stroke-width="0.95" fill="none"/></g>
<rect x="222.98" y="425.30" width="17.50" height="75.10" fill="none" stroke="#000" stroke-width="1.6"/>
<text transform="translate(233.33 509.90) scale(1.6 1) rotate(-45)" font-family='"Liberation Sans", Arial, Helvetica, sans-serif' font-size="8.75" font-weight="bold" text-anchor="end" stroke="#000" stroke-width="0.25">D-C</text>
<path d="M267.30 421.00V417.30M262.60 417.30H272.00" stroke="#000" stroke-width="1.4" fill="none"/>
<rect x="257.75" y="421.00" width="19.10" height="79.40" fill="#fff"/>
<g clip-path="url(#c22)"><path d="M257.75 411.07L276.85 421.00M257.75 413.57L276.85 423.50M257.75 416.07L276.85 426.00M257.75 418.57L276.85 428.50M257.75 421.07L276.85 431.00M257.75 423.57L276.85 433.50M257.75 426.07L276.85 436.00M257.75 428.57L276.85 438.50M257.75 431.07L276.85 441.00M257.75 433.57L276.85 443.50M257.75 436.07L276.85 446.00M257.75 438.57L276.85 448.50M257.75 441.07L276.85 451.00M257.75 443.57L276.85 453.50M257.75 446.07L276.85 456.00M257.75 448.57L276.85 458.50M257.75 451.07L276.85 461.00M257.75 453.57L276.85 463.50M257.75 456.07L276.85 466.00M257.75 458.57L276.85 468.50M257.75 461.07L276.85 471.00M257.75 463.57L276.85 473.50M257.75 466.07L276.85 476.00M257.75 468.57L276.85 478.50M257.75 471.07L276.85 481.00M257.75 473.57L276.85 483.50M257.75 476.07L276.85 486.00M257.75 478.57L276.85 488.50M257.75 481.07L276.85 491.00M257.75 483.57L276.85 493.50M257.75 486.07L276.85 496.00M257.75 488.57L276.85 498.50M257.75 491.07L276.85 501.00M257.75 493.57L276.85 503.50M257.75 496.07L276.85 506.00M257.75 498.57L276.85 508.50M257.75 501.07L276.85 511.00" stroke="#000" stroke-width="0.9" fill="none"/></g>
<rect x="258.55" y="421.80" width="17.50" height="78.60" fill="none" stroke="#000" stroke-width="1.6"/>
<text transform="translate(268.90 509.90) scale(1.6 1) rotate(-45)" font-family='"Liberation Sans", Arial, Helvetica, sans-serif' font-size="8.75" font-weight="bold" text-anchor="end" stroke="#000" stroke-width="0.25">D-HF</text>
<path d="M302.87 425.90V421.50M298.17 421.50H307.57" stroke="#000" stroke-width="1.4" fill="none"/>
<rect x="293.32" y="425.90" width="19.10" height="74.50" fill="#fff"/>
<g clip-path="url(#c23)"><path d="M300.02 425.90V500.40M305.72 425.90V500.40M311.42 425.90V500.40M293.32 429.80H312.42M293.32 433.80H312.42M293.32 437.80H312.42M293.32 441.80H312.42M293.32 445.80H312.42M293.32 449.80H312.42M293.32 453.80H312.42M293.32 457.80H312.42M293.32 461.80H312.42M293.32 465.80H312.42M293.32 469.80H312.42M293.32 473.80H312.42M293.32 477.80H312.42M293.32 481.80H312.42M293.32 485.80H312.42M293.32 489.80H312.42M293.32 493.80H312.42M293.32 497.80H312.42" stroke="#000" stroke-width="0.9" fill="none"/></g>
<rect x="294.12" y="426.70" width="17.50" height="73.70" fill="none" stroke="#000" stroke-width="1.6"/>
<text transform="translate(304.47 509.90) scale(1.6 1) rotate(-45)" font-family='"Liberation Sans", Arial, Helvetica, sans-serif' font-size="8.75" font-weight="bold" text-anchor="end" stroke="#000" stroke-width="0.25">D-HC</text>
<path d="M338.44 385.70V380.40M333.74 380.40H343.14" stroke="#000" stroke-width="1.4" fill="none"/>
<rect x="328.89" y="385.70" width="19.10" height="114.70" fill="#fff"/>
<g clip-path="url(#c24)"><rect x="328.89" y="385.70" width="19.10" height="114.70" fill="#000"/><path d="M331.09 389.45L334.89 387.95M336.19 389.45L339.99 387.95M341.29 389.45L345.09 387.95M346.39 389.45L350.19 387.95M331.09 391.80L334.89 390.30M336.19 391.80L339.99 390.30M341.29 391.80L345.09 390.30M346.39 391.80L350.19 390.30M331.09 394.15L334.89 392.65M336.19 394.15L339.99 392.65M341.29 394.15L345.09 392.65M346.39 394.15L350.19 392.65M331.09 396.50L334.89 395.00M336.19 396.50L339.99 395.00M341.29 396.50L345.09 395.00M346.39 396.50L350.19 395.00M331.09 398.85L334.89 397.35M336.19 398.85L339.99 397.35M341.29 398.85L345.09 397.35M346.39 398.85L350.19 397.35M331.09 401.20L334.89 399.70M336.19 401.20L339.99 399.70M341.29 401.20L345.09 399.70M346.39 401.20L350.19 399.70M331.09 403.55L334.89 402.05M336.19 403.55L339.99 402.05M341.29 403.55L345.09 402.05M346.39 403.55L350.19 402.05M331.09 405.90L334.89 404.40M336.19 405.90L339.99 404.40M341.29 405.90L345.09 404.40M346.39 405.90L350.19 404.40M331.09 408.25L334.89 406.75M336.19 408.25L339.99 406.75M341.29 408.25L345.09 406.75M346.39 408.25L350.19 406.75M331.09 410.60L334.89 409.10M336.19 410.60L339.99 409.10M341.29 410.60L345.09 409.10M346.39 410.60L350.19 409.10M331.09 412.95L334.89 411.45M336.19 412.95L339.99 411.45M341.29 412.95L345.09 411.45M346.39 412.95L350.19 411.45M331.09 415.30L334.89 413.80M336.19 415.30L339.99 413.80M341.29 415.30L345.09 413.80M346.39 415.30L350.19 413.80M331.09 417.65L334.89 416.15M336.19 417.65L339.99 416.15M341.29 417.65L345.09 416.15M346.39 417.65L350.19 416.15M331.09 420.00L334.89 418.50M336.19 420.00L339.99 418.50M341.29 420.00L345.09 418.50M346.39 420.00L350.19 418.50M331.09 422.35L334.89 420.85M336.19 422.35L339.99 420.85M341.29 422.35L345.09 420.85M346.39 422.35L350.19 420.85M331.09 424.70L334.89 423.20M336.19 424.70L339.99 423.20M341.29 424.70L345.09 423.20M346.39 424.70L350.19 423.20M331.09 427.05L334.89 425.55M336.19 427.05L339.99 425.55M341.29 427.05L345.09 425.55M346.39 427.05L350.19 425.55M331.09 429.40L334.89 427.90M336.19 429.40L339.99 427.90M341.29 429.40L345.09 427.90M346.39 429.40L350.19 427.90M331.09 431.75L334.89 430.25M336.19 431.75L339.99 430.25M341.29 431.75L345.09 430.25M346.39 431.75L350.19 430.25M331.09 434.10L334.89 432.60M336.19 434.10L339.99 432.60M341.29 434.10L345.09 432.60M346.39 434.10L350.19 432.60M331.09 436.45L334.89 434.95M336.19 436.45L339.99 434.95M341.29 436.45L345.09 434.95M346.39 436.45L350.19 434.95M331.09 438.80L334.89 437.30M336.19 438.80L339.99 437.30M341.29 438.80L345.09 437.30M346.39 438.80L350.19 437.30M331.09 441.15L334.89 439.65M336.19 441.15L339.99 439.65M341.29 441.15L345.09 439.65M346.39 441.15L350.19 439.65M331.09 443.50L334.89 442.00M336.19 443.50L339.99 442.00M341.29 443.50L345.09 442.00M346.39 443.50L350.19 442.00M331.09 445.85L334.89 444.35M336.19 445.85L339.99 444.35M341.29 445.85L345.09 444.35M346.39 445.85L350.19 444.35M331.09 448.20L334.89 446.70M336.19 448.20L339.99 446.70M341.29 448.20L345.09 446.70M346.39 448.20L350.19 446.70M331.09 450.55L334.89 449.05M336.19 450.55L339.99 449.05M341.29 450.55L345.09 449.05M346.39 450.55L350.19 449.05M331.09 452.90L334.89 451.40M336.19 452.90L339.99 451.40M341.29 452.90L345.09 451.40M346.39 452.90L350.19 451.40M331.09 455.25L334.89 453.75M336.19 455.25L339.99 453.75M341.29 455.25L345.09 453.75M346.39 455.25L350.19 453.75M331.09 457.60L334.89 456.10M336.19 457.60L339.99 456.10M341.29 457.60L345.09 456.10M346.39 457.60L350.19 456.10M331.09 459.95L334.89 458.45M336.19 459.95L339.99 458.45M341.29 459.95L345.09 458.45M346.39 459.95L350.19 458.45M331.09 462.30L334.89 460.80M336.19 462.30L339.99 460.80M341.29 462.30L345.09 460.80M346.39 462.30L350.19 460.80M331.09 464.65L334.89 463.15M336.19 464.65L339.99 463.15M341.29 464.65L345.09 463.15M346.39 464.65L350.19 463.15M331.09 467.00L334.89 465.50M336.19 467.00L339.99 465.50M341.29 467.00L345.09 465.50M346.39 467.00L350.19 465.50M331.09 469.35L334.89 467.85M336.19 469.35L339.99 467.85M341.29 469.35L345.09 467.85M346.39 469.35L350.19 467.85M331.09 471.70L334.89 470.20M336.19 471.70L339.99 470.20M341.29 471.70L345.09 470.20M346.39 471.70L350.19 470.20M331.09 474.05L334.89 472.55M336.19 474.05L339.99 472.55M341.29 474.05L345.09 472.55M346.39 474.05L350.19 472.55M331.09 476.40L334.89 474.90M336.19 476.40L339.99 474.90M341.29 476.40L345.09 474.90M346.39 476.40L350.19 474.90M331.09 478.75L334.89 477.25M336.19 478.75L339.99 477.25M341.29 478.75L345.09 477.25M346.39 478.75L350.19 477.25M331.09 481.10L334.89 479.60M336.19 481.10L339.99 479.60M341.29 481.10L345.09 479.60M346.39 481.10L350.19 479.60M331.09 483.45L334.89 481.95M336.19 483.45L339.99 481.95M341.29 483.45L345.09 481.95M346.39 483.45L350.19 481.95M331.09 485.80L334.89 484.30M336.19 485.80L339.99 484.30M341.29 485.80L345.09 484.30M346.39 485.80L350.19 484.30M331.09 488.15L334.89 486.65M336.19 488.15L339.99 486.65M341.29 488.15L345.09 486.65M346.39 488.15L350.19 486.65M331.09 490.50L334.89 489.00M336.19 490.50L339.99 489.00M341.29 490.50L345.09 489.00M346.39 490.50L350.19 489.00M331.09 492.85L334.89 491.35M336.19 492.85L339.99 491.35M341.29 492.85L345.09 491.35M346.39 492.85L350.19 491.35M331.09 495.20L334.89 493.70M336.19 495.20L339.99 493.70M341.29 495.20L345.09 493.70M346.39 495.20L350.19 493.70M331.09 497.55L334.89 496.05M336.19 497.55L339.99 496.05M341.29 497.55L345.09 496.05M346.39 497.55L350.19 496.05M331.09 499.90L334.89 498.40M336.19 499.90L339.99 498.40M341.29 499.90L345.09 498.40M346.39 499.90L350.19 498.40M331.09 502.25L334.89 500.75M336.19 502.25L339.99 500.75M341.29 502.25L345.09 500.75M346.39 502.25L350.19 500.75" stroke="#fff" stroke-width="1.15" stroke-linecap="round" fill="none"/></g>
<rect x="329.69" y="386.50" width="17.50" height="113.90" fill="none" stroke="#000" stroke-width="1.6"/>
<text transform="translate(340.04 509.90) scale(1.6 1) rotate(-45)" font-family='"Liberation Sans", Arial, Helvetica, sans-serif' font-size="8.75" font-weight="bold" text-anchor="end" stroke="#000" stroke-width="0.25">D-HFHC</text>
<text transform="translate(337.70 371.28) scale(1.51 1)" font-family='"Liberation Sans", Arial, Helvetica, sans-serif' font-size="11" font-weight="normal" text-anchor="middle" stroke="#000" stroke-width="0.2">*</text>
<text transform="translate(336.20 375.68) scale(1.28 1)" font-family='"Liberation Sans", Arial, Helvetica, sans-serif' font-size="8.8" font-weight="normal" text-anchor="middle" stroke="#000" stroke-width="0.18">##</text>
<text transform="translate(90.40 386.80) scale(0.98 1)" font-family='"Liberation Serif", "Times New Roman", serif' font-size="19.8" font-weight="bold" text-anchor="middle" >C</text>
<text transform="translate(12.10 438.70) rotate(-90) scale(0.735 1)" font-family='"Liberation Sans", Arial, sans-serif' font-size="13.3" text-anchor="middle" stroke="#000" stroke-width="0.6">Creatinine clearance</text>
<text transform="translate(29.20 438.50) rotate(-90) scale(0.785 1)" font-family='"Liberation Sans", Arial, sans-serif' font-size="12.2" text-anchor="middle" stroke="#000" stroke-width="0.6">(ml/min)</text>
</svg></body></html>
